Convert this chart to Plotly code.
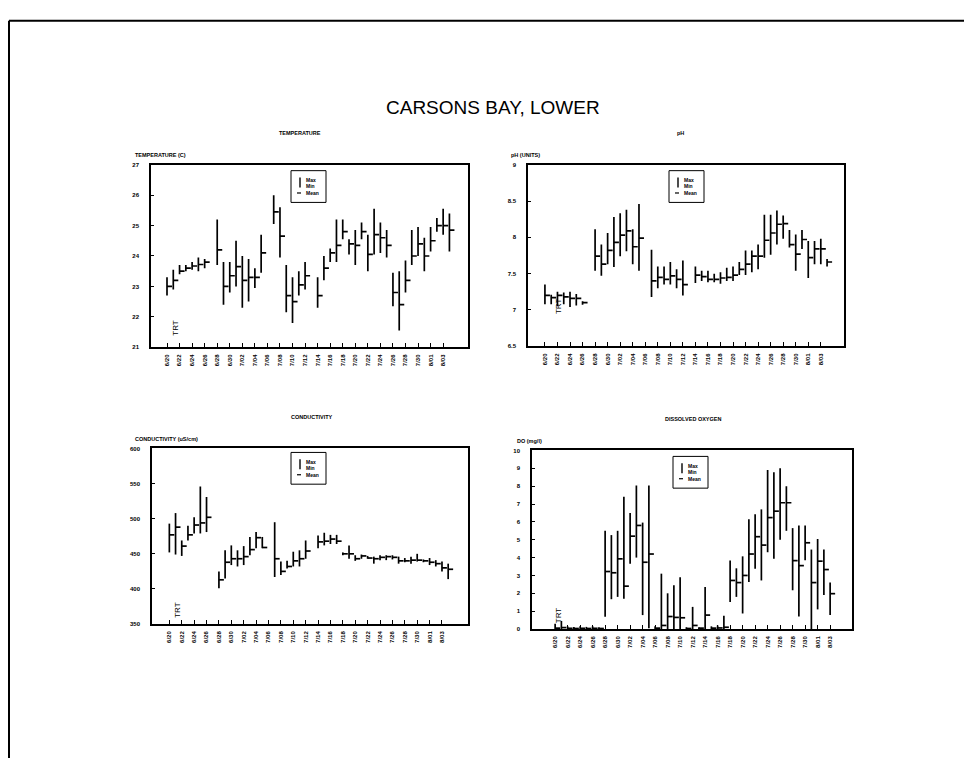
import pandas as pd
import plotly.graph_objects as go

# Sampling days (one bar per day), 6/20 through 8/04
days = pd.date_range("1990-06-20", "1990-08-04", freq="D")
# labelled dates: every second day, 6/20 through 8/03
tick_days = days[0:45:2]
tick_text = [f"{d.month}/{d.day:02d}" for d in tick_days]

# Daily water temperature (C): max / min / mean
temp_max = [23.3, 23.55, 23.7, 23.7, 23.8, 23.95, 23.9, None, 25.2, 23.8, 23.8, 24.5, 24.0, 23.9, 23.6, 24.7,
            None, 26.0, 25.6, 23.7, 23.3, 23.5, 23.8, None, 23.3, 24.0, 24.25, 25.2, 25.2, 24.55, 24.85, 25.1,
            24.7, 25.55, 25.1, 24.85, 23.45, 23.5, 23.85, 24.85, 24.95, 24.6, 24.95, 25.25, 25.55, 25.4]
temp_min = [22.7, 22.9, 23.4, 23.5, 23.55, 23.5, 23.6, None, 23.7, 22.4, 22.8, 23.0, 22.3, 22.5, 22.95, 23.45,
            None, 25.05, 23.95, 22.15, 21.8, 22.7, 22.9, None, 22.3, 23.2, 23.8, 23.8, 24.55, 24.05, 23.7, 24.55,
            23.5, 24.05, 24.1, 23.95, 22.35, 21.55, 22.8, 23.7, 24.0, 23.5, 24.15, 24.8, 24.7, 24.15]
temp_mean = [23.0, 23.2, 23.5, 23.6, 23.67, 23.72, 23.8, None, 24.2, 23.0, 23.35, 23.65, 23.2, 23.3, 23.3, 24.1,
             None, 25.45, 24.65, 22.7, 22.5, 23.05, 23.35, None, 22.7, 23.6, 24.1, 24.35, 24.8, 24.4, 24.35, 24.8,
             24.05, 24.7, 24.6, 24.35, 22.8, 22.4, 23.2, 24.0, 24.4, 24.0, 24.5, 25.0, 25.0, 24.85]

# Daily pH (units)
ph_max = [7.35, 7.21, 7.25, 7.24, 7.25, 7.22, 7.12, None, 8.11, 7.9, 8.06, 8.28, 8.33, 8.38, 8.11, 8.46,
          None, 7.83, 7.6, 7.6, 7.66, 7.56, 7.68, None, 7.6, 7.54, 7.54, 7.5, 7.52, 7.58, 7.6, 7.66,
          7.82, 7.82, 7.9, 8.31, 8.31, 8.37, 8.3, 8.1, 8.04, 8.1, 7.95, 7.95, 7.98, 7.7]
ph_min = [7.08, 7.08, 7.05, 7.08, 7.04, 7.06, 7.07, None, 7.54, 7.47, 7.63, 7.59, 7.74, 7.81, 7.63, 7.54,
          None, 7.18, 7.3, 7.35, 7.35, 7.3, 7.2, None, 7.37, 7.4, 7.38, 7.38, 7.36, 7.4, 7.4, 7.48,
          7.48, 7.52, 7.56, 7.72, 7.76, 7.9, 7.98, 7.86, 7.54, 7.84, 7.44, 7.63, 7.63, 7.6]
ph_mean = [7.2, 7.17, 7.2, 7.18, 7.16, 7.16, 7.1, None, 7.74, 7.63, 7.82, 7.93, 8.03, 8.09, 7.87, 7.99,
           None, 7.4, 7.45, 7.42, 7.47, 7.42, 7.35, None, 7.48, 7.46, 7.42, 7.42, 7.44, 7.45, 7.48, 7.56,
           7.63, 7.74, 7.74, 7.96, 8.06, 8.18, 8.19, 7.9, 7.77, 7.97, 7.72, 7.84, 7.84, 7.66]

# Daily conductivity (uS/cm)
cond_max = [493, 508, 469, 490, 502, 546, 531, None, 425, 455, 462, 455, 461, 474, 481, 474,
            None, 495, 439, 440, 453, 455, 469, None, 476, 480, 477, 477, 452, 462, 448, 449,
            447, 446, 448, 448, 448, 446, 444, 446, 450, 442, 444, 441, 439, 436]
cond_min = [452, 449, 447, 469, 479, 479, 481, None, 401, 415, 434, 432, 434, 448, 458, 458,
            None, 417, 420, 429, 432, 432, 443, None, 458, 462, 464, 464, 448, 443, 440, 443,
            443, 436, 441, 441, 442, 436, 438, 436, 439, 438, 434, 432, 425, 414]
cond_mean = [477, 488, 461, 477, 491, 494, 502, None, 413, 438, 443, 443, 446, 456, 473, 459,
             None, 443, 425, 432, 440, 443, 454, None, 467, 468, 471, 468, 450, 450, 443, 447,
             444, 443, 445, 446, 445, 440, 440, 441, 441, 440, 438, 436, 430, 428]

# Daily dissolved oxygen (mg/l)
do_max = [0.3, 0.45, 0.15, 0.12, 0.15, 0.12, 0.15, 0.1, 5.5, 5.26, 5.5, 7.4, 6.5, 8.04, 5.96, 8.04,
          0.15, 3.1, 2.0, 2.45, 2.9, 0.1, 1.24, 0.1, 2.35, 0.15, 0.2, 0.75, 3.83, 3.4, 4.07, 6.15,
          6.43, 6.7, 8.9, 8.78, 9.0, 8.0, 5.65, 5.8, 5.8, 4.45, 5.04, 4.45, 2.6, None]
do_min = [0.0, 0.0, 0.0, 0.0, 0.0, 0.0, 0.0, 0.0, 0.69, 1.67, 1.8, 1.7, 3.65, 4.0, 0.78, 0.04,
          0.0, 0.0, 0.0, 0.0, 0.0, 0.0, 0.0, 0.0, 0.0, 0.0, 0.0, 0.0, 1.52, 1.8, 0.87, 2.63,
          3.37, 2.72, 4.3, 3.93, 5.0, 5.5, 2.17, 0.7, 3.85, 0.0, 1.1, 1.9, 0.78, None]
do_mean = [0.05, 0.08, 0.04, 0.03, 0.04, 0.03, 0.04, 0.03, 3.22, 3.15, 3.93, 2.4, 5.2, 5.8, 3.74, 4.2,
           0.05, 0.2, 0.7, 0.65, 0.63, 0.03, 0.2, 0.05, 0.78, 0.05, 0.06, 0.1, 2.72, 2.6, 3.0, 4.2,
           5.17, 4.7, 6.24, 6.6, 7.07, 7.07, 3.83, 3.55, 4.83, 2.6, 3.8, 3.33, 1.98, None]

W, H = 972, 761
FONT = "Arial, Liberation Sans, sans-serif"
INK = "#000000"
DAY = pd.Timedelta(days=1)
TICK_LEN = 0.8  # mean tick length, in days

# pixel boxes of the four panels: (left, right, top, bottom)
panels = [
    dict(name="TEMPERATURE", ylab="TEMPERATURE (C)", box=(151, 468, 163, 347), yr=[21, 27], dt=1,
         xr=(-2.55, 47.96), data=(temp_max, temp_min, temp_mean), trt=(1.3, 21.65),
         title_x=300, ylab_x=133, legend=(291, 169)),
    dict(name="pH", ylab="pH (UNITS)", box=(528, 844, 163, 346), yr=[6.5, 9], dt=0.5,
         xr=(-2.7, 47.7), data=(ph_max, ph_min, ph_mean), trt=(2.2, 7.05),
         title_x=680, ylab_x=509, legend=(669, 169)),
    dict(name="CONDUCTIVITY", ylab="CONDUCTIVITY (uS/cm)", box=(152, 468, 449, 626), yr=[350, 600], dt=50,
         xr=(-2.8, 48.2), data=(cond_max, cond_min, cond_mean), trt=(1.2, 370),
         title_x=312, ylab_x=133, legend=(291, 453)),
    dict(name="DISSOLVED OXYGEN", ylab="DO (mg/l)", box=(532, 852, 451, 631), yr=[0, 10], dt=1,
         xr=(-3.7, 47.5), data=(do_max, do_min, do_mean), trt=(0.55, 0.75),
         title_x=693, ylab_x=515, legend=(673, 457)),
]


def px(x):
    return x / W


def py(y):
    return 1 - y / H


fig = go.Figure()

for i, p in enumerate(panels, start=1):
    xa = "x" if i == 1 else f"x{i}"
    ya = "y" if i == 1 else f"y{i}"
    hi, lo, mean = p["data"]

    # vertical min-max bars
    vx, vy = [], []
    for d, a, b in zip(days, hi, lo):
        if a is None:
            continue
        vx += [d, d, None]
        vy += [b, a, None]
    fig.add_trace(go.Scatter(x=vx, y=vy, mode="lines", xaxis=xa, yaxis=ya,
                             line=dict(color=INK, width=1.7), hoverinfo="skip", showlegend=False))
    # mean ticks extending to the right of each bar
    hx, hy = [], []
    for d, m in zip(days, mean):
        if m is None:
            continue
        hx += [d, d + TICK_LEN * DAY, None]
        hy += [m, m, None]
    fig.add_trace(go.Scatter(x=hx, y=hy, mode="lines", xaxis=xa, yaxis=ya,
                             line=dict(color=INK, width=1.7), hoverinfo="skip", showlegend=False))

    l, r, t, b = p["box"]
    x0 = days[0] + p["xr"][0] * DAY
    x1 = days[0] + p["xr"][1] * DAY
    axis_common = dict(showline=True, mirror=True, linecolor=INK, linewidth=1.6,
                       showgrid=False, zeroline=False, ticks="inside", tickcolor=INK)
    fig.layout[f"xaxis{i if i > 1 else ''}"] = dict(
        domain=[px(l), px(r)], anchor=ya, type="date", range=[x0, x1],
        tickmode="array", tickvals=list(tick_days), ticktext=tick_text, tickangle=-90,
        ticklen=4, tickwidth=1.2, ticklabelstandoff=3,
        tickfont=dict(family=FONT, size=6, color=INK, weight="bold"), **axis_common)
    fig.layout[f"yaxis{i if i > 1 else ''}"] = dict(
        domain=[py(b), py(t)], anchor=xa, range=p["yr"], dtick=p["dt"],
        ticklen=3, tickwidth=1, ticklabelstandoff=9,
        tickfont=dict(family=FONT, size=6, color=INK, weight="bold"), **axis_common)

    # panel title and axis caption
    fig.add_annotation(x=px(p["title_x"]), y=py(t - 32), xref="paper", yref="paper",
                       text=p["name"], showarrow=False, xanchor="center", yanchor="middle",
                       font=dict(family=FONT, size=5.5, color=INK, weight="bold"))
    fig.add_annotation(x=px(p["ylab_x"]), y=py(t - 10), xref="paper", yref="paper",
                       text=p["ylab"], showarrow=False, xanchor="left", yanchor="middle",
                       font=dict(family=FONT, size=5.5, color=INK, weight="bold"))

    # treatment marker
    tx, tyv = p["trt"]
    fig.add_annotation(x=days[0] + tx * DAY, y=tyv, xref=xa, yref=ya, text="TRT",
                       showarrow=False, textangle=-90,
                       font=dict(family=FONT, size=8, color=INK))

    # legend box
    lx, ly = p["legend"]
    fig.add_shape(type="rect", xref="paper", yref="paper", x0=px(lx), x1=px(lx + 35),
                  y0=py(ly + 32), y1=py(ly), line=dict(color=INK, width=1))
    fig.add_shape(type="line", xref="paper", yref="paper", x0=px(lx + 9), x1=px(lx + 9),
                  y0=py(ly + 17), y1=py(ly + 7), line=dict(color=INK, width=1.4))
    fig.add_shape(type="line", xref="paper", yref="paper", x0=px(lx + 6), x1=px(lx + 10),
                  y0=py(ly + 22.5), y1=py(ly + 22.5), line=dict(color=INK, width=1.2))
    for txt, dy in (("Max", 9.5), ("Min", 15.5), ("Mean", 22.5)):
        fig.add_annotation(x=px(lx + 13), y=py(ly + dy), xref="paper", yref="paper", text=txt,
                           showarrow=False, xanchor="left", yanchor="middle",
                           font=dict(family=FONT, size=5, color=INK, weight="bold"))

# main heading
fig.add_annotation(x=px(493), y=py(105), xref="paper", yref="paper", text="CARSONS BAY, LOWER",
                   showarrow=False, xanchor="center", yanchor="middle",
                   font=dict(family=FONT, size=19, color=INK))

# page frame (left and top edges)
fig.add_shape(type="line", xref="paper", yref="paper", x0=px(9), x1=px(9), y0=0, y1=py(18),
              line=dict(color=INK, width=2))
fig.add_shape(type="line", xref="paper", yref="paper", x0=px(9), x1=px(964), y0=py(18), y1=py(18),
              line=dict(color=INK, width=2))

fig.update_layout(width=W, height=H, margin=dict(l=0, r=0, t=0, b=0),
                  paper_bgcolor="white", plot_bgcolor="white", showlegend=False)

fig.write_html("out.html")
